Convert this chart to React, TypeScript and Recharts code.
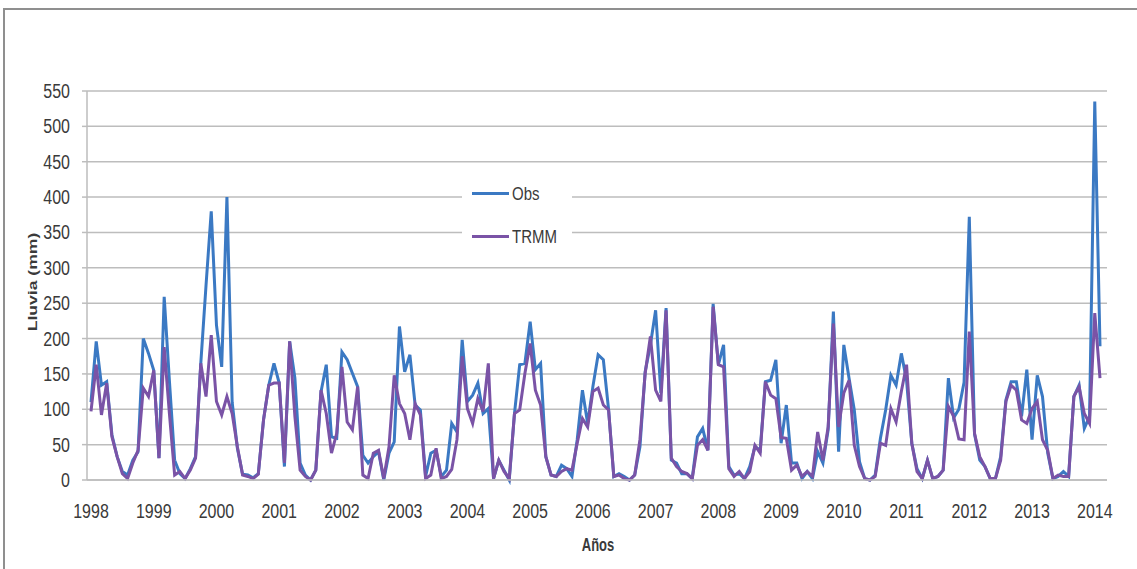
import { CartesianGrid, Line, LineChart, XAxis, YAxis } from 'recharts';

const START_YEAR = 1998;

// Monthly rainfall (mm), Jan 1998 .. Feb 2014
const OBS = [
  110, 196, 134, 139, 64, 33, 12, 7, 28, 40, 200, 179,
  155, 31, 259, 140, 28, 9, 2, 16, 33, 165, 275, 380,
  219, 160, 400, 110, 45, 8, 7, 3, 9, 85, 134, 165,
  137, 19, 196, 144, 24, 7, 0, 14, 125, 163, 61, 59,
  181, 170, 151, 132, 35, 24, 33, 40, 0, 38, 54, 217,
  153, 177, 106, 99, 5, 38, 42, 5, 14, 80, 68, 198,
  111, 120, 137, 94, 101, 2, 28, 14, 0, 94, 163, 165,
  224, 156, 165, 33, 7, 5, 21, 16, 5, 57, 127, 80,
  132, 177, 170, 100, 5, 9, 5, 0, 7, 47, 153, 191,
  240, 123, 243, 28, 24, 9, 9, 2, 61, 73, 42, 249,
  163, 191, 19, 7, 9, 2, 19, 47, 42, 139, 141, 170,
  52, 106, 24, 24, 2, 12, 2, 40, 24, 71, 238, 40,
  191, 144, 99, 26, 2, 0, 7, 59, 99, 148, 134, 179,
  141, 52, 16, 2, 28, 2, 5, 14, 144, 88, 100, 138,
  372, 65, 28, 19, 2, 2, 33, 113, 139, 139, 90, 156,
  57, 148, 118, 38, 2, 5, 12, 5, 118, 134, 73, 90,
  535, 189,
];

const TRMM = [
  97, 163, 92, 137, 61, 33, 9, 2, 24, 42, 130, 118,
  155, 31, 188, 94, 7, 12, 2, 14, 31, 165, 118, 205,
  111, 92, 118, 94, 47, 7, 5, 2, 8, 85, 134, 137,
  137, 24, 196, 90, 14, 5, 0, 14, 127, 94, 38, 66,
  160, 82, 71, 132, 7, 2, 38, 42, 2, 47, 148, 108,
  94, 57, 108, 92, 2, 7, 45, 2, 5, 15, 57, 175,
  101, 80, 115, 97, 165, 2, 28, 12, 2, 94, 99, 151,
  193, 127, 106, 33, 7, 5, 12, 16, 14, 52, 87, 75,
  125, 130, 106, 99, 5, 7, 2, 0, 7, 57, 151, 203,
  127, 111, 240, 31, 19, 12, 9, 2, 49, 57, 42, 245,
  163, 160, 16, 5, 12, 2, 12, 49, 38, 139, 120, 115,
  60, 59, 14, 21, 5, 12, 5, 68, 28, 75, 221, 75,
  123, 141, 49, 19, 2, 0, 5, 52, 49, 101, 82, 125,
  163, 52, 12, 2, 28, 2, 5, 14, 104, 90, 58, 57,
  210, 66, 33, 19, 2, 2, 28, 111, 134, 127, 85, 80,
  101, 111, 57, 42, 2, 7, 5, 5, 118, 132, 94, 80,
  236, 144,
];

const Y_TICKS = [0, 50, 100, 150, 200, 250, 300, 350, 400, 450, 500, 550];

const MONTHS = OBS.map(
  (_, i) => `${START_YEAR + Math.floor(i / 12)}-${String((i % 12) + 1).padStart(2, '0')}`
);

const data = MONTHS.map((month, i) => ({ month, obs: OBS[i], trmm: TRMM[i] }));

const FONT = '"Liberation Sans", Arial, sans-serif';
const TEXT = '#3a3a3a';
const GRID = '#bdbdbd';
const OBS_COLOR = '#3b79c3';
const TRMM_COLOR = '#7a53a6';

function XTick({ x, y, payload }: any) {
  return (
    <g transform={`translate(${x},${y + 30}) scale(1,1.3)`}>
      <text textAnchor="middle" fontFamily={FONT} fontSize={16} fill={TEXT}>
        {String(payload.value).slice(0, 4)}
      </text>
    </g>
  );
}

function YTick({ x, y, payload }: any) {
  return (
    <g transform={`translate(${x - 10},${y + 7}) scale(1,1.3)`}>
      <text textAnchor="end" fontFamily={FONT} fontSize={16} fill={TEXT}>
        {payload.value}
      </text>
    </g>
  );
}

const LEGEND_ITEMS = [
  { name: 'Obs', color: OBS_COLOR },
  { name: 'TRMM', color: TRMM_COLOR },
];

// legend sits inside the plot, over the gridlines, like the Excel original
function LegendBox() {
  return (
    <div style={{ position: 'absolute', left: 462, top: 172, width: 110, background: '#fff', fontFamily: FONT }}>
      {LEGEND_ITEMS.map((item) => (
        <div key={item.name} style={{ height: 43, display: 'flex', alignItems: 'center' }}>
          <div style={{ marginLeft: 10, width: 37, height: 3, background: item.color }} />
          <span
            style={{
              marginLeft: 3,
              fontSize: 15,
              color: TEXT,
              display: 'inline-block',
              transform: 'scale(1,1.2)',
            }}
          >
            {item.name}
          </span>
        </div>
      ))}
    </div>
  );
}

export default function App() {
  return (
    <div style={{ position: 'absolute', left: 0, top: 0, width: 1137, height: 569, overflow: 'hidden', background: '#fff' }}>
      <div
        style={{
          position: 'absolute',
          left: 3,
          top: 8,
          width: 1200,
          height: 600,
          borderTop: '2px solid #8f8f8f',
          borderLeft: '2px solid #8f8f8f',
        }}
      />
      <LineChart
        width={1137}
        height={569}
        data={data}
        margin={{ top: 91, right: 30, left: 0, bottom: 0 }}
        style={{ position: 'absolute', left: 0, top: 0 }}
      >
        <CartesianGrid vertical={false} stroke={GRID} strokeWidth={1.5} />
        <XAxis
          dataKey="month"
          interval={11}
          height={89}
          tickLine={false}
          axisLine={{ stroke: GRID, strokeWidth: 1.5 }}
          padding={{ left: 4, right: 7 }}
          tick={<XTick />}
        />
        <YAxis
          width={87}
          domain={[0, 550]}
          ticks={Y_TICKS}
          interval={0}
          tickSize={5}
          tickLine={{ stroke: GRID, strokeWidth: 1.5 }}
          axisLine={{ stroke: GRID, strokeWidth: 1.5 }}
          tick={<YTick />}
        />
        <Line type="linear" dataKey="obs" name="Obs" stroke={OBS_COLOR} strokeWidth={3} dot={false} isAnimationActive={false} />
        <Line type="linear" dataKey="trmm" name="TRMM" stroke={TRMM_COLOR} strokeWidth={3} dot={false} isAnimationActive={false} />
      </LineChart>
      <LegendBox />
      <div
        style={{
          position: 'absolute',
          left: 32,
          top: 282,
          transform: 'translate(-50%,-50%) rotate(-90deg) scale(1.35,1)',
          fontFamily: FONT,
          fontWeight: 'bold',
          fontSize: 13,
          color: TEXT,
          whiteSpace: 'nowrap',
        }}
      >
        Lluvia (mm)
      </div>
      <div
        style={{
          position: 'absolute',
          left: 598,
          top: 545,
          transform: 'translate(-50%,-50%) scale(1,1.35)',
          fontFamily: FONT,
          fontWeight: 'bold',
          fontSize: 13,
          color: TEXT,
          whiteSpace: 'nowrap',
        }}
      >
        Años
      </div>
    </div>
  );
}
